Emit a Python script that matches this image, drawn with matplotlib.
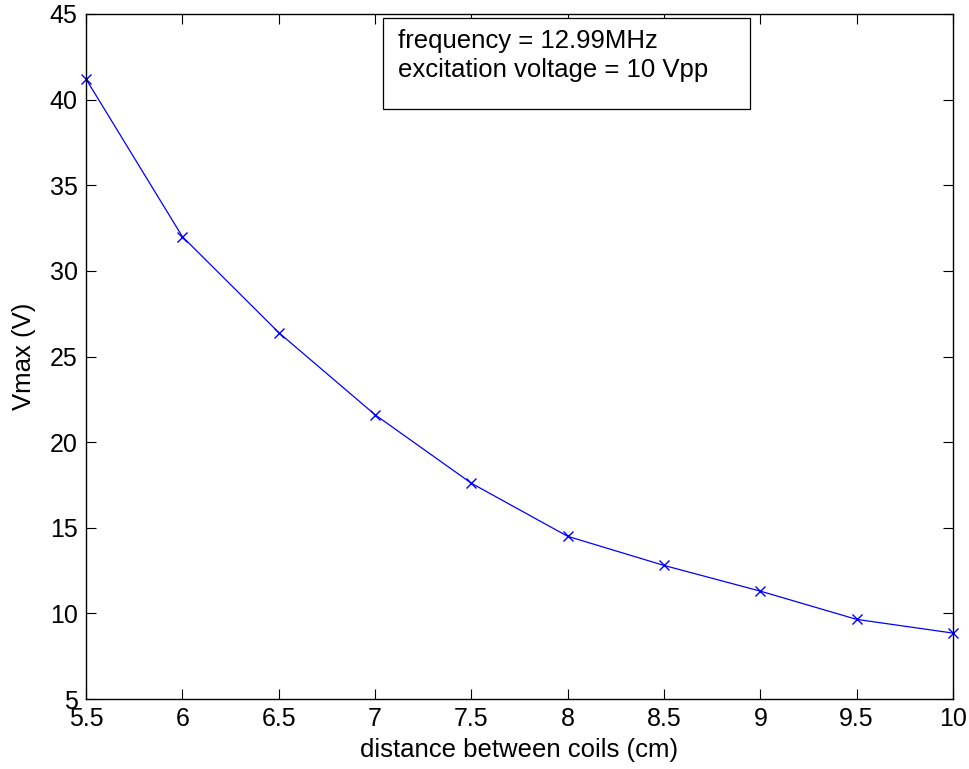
import matplotlib
matplotlib.use("Agg")
from matplotlib import pyplot as plt
from matplotlib.patches import Rectangle

plt.rcParams['font.family'] = ['Liberation Sans', 'DejaVu Sans']

# distance between coils (cm) vs measured Vmax (V)
distance = [5.5, 6, 6.5, 7, 7.5, 8, 8.5, 9, 9.5, 10]
vmax = [41.2, 32.0, 26.4, 21.6, 17.6, 14.5, 12.8, 11.3, 9.65, 8.85]

xticks = [5.5, 6, 6.5, 7, 7.5, 8, 8.5, 9, 9.5, 10]
xticklabels = ['5.5', '6', '6.5', '7', '7.5', '8', '8.5', '9', '9.5', '10']
yticks = [5, 10, 15, 20, 25, 30, 35, 40, 45]

note_lines = ['frequency = 12.99MHz', 'excitation voltage = 10 Vpp']

fig = plt.figure(figsize=(9.69, 7.69), dpi=100)
ax = fig.add_axes([0.0888, 0.0910, 0.8947, 0.8908])

ax.plot(distance, vmax, color='#0000ff', linewidth=0.9, marker='x',
        markersize=7, markeredgewidth=1.0, clip_on=False)

ax.set_xlim(5.5, 10)
ax.set_ylim(5, 45)
ax.set_xticks(xticks)
ax.set_xticklabels(xticklabels)
ax.set_yticks(yticks)

ax.tick_params(direction='in', length=7, width=0.8, labelsize=18,
               top=True, right=True, pad=6)
for s in ax.spines.values():
    s.set_linewidth(1.0)

ax.set_xlabel('distance between coils (cm)', fontsize=18.5, labelpad=5)
ax.set_ylabel('Vmax (V)', fontsize=18.5, labelpad=10)

# annotation box
ax.add_patch(Rectangle((0.342, 0.861), 0.424, 0.1327, transform=ax.transAxes,
                       facecolor='white', edgecolor='black', linewidth=0.9,
                       zorder=5))
ax.text(0.360, 0.951, note_lines[0], transform=ax.transAxes, fontsize=18.5,
        va='baseline', ha='left', zorder=6)
ax.text(0.360, 0.908, note_lines[1], transform=ax.transAxes, fontsize=18.5,
        va='baseline', ha='left', zorder=6)

fig.savefig('out.png', dpi=100)
